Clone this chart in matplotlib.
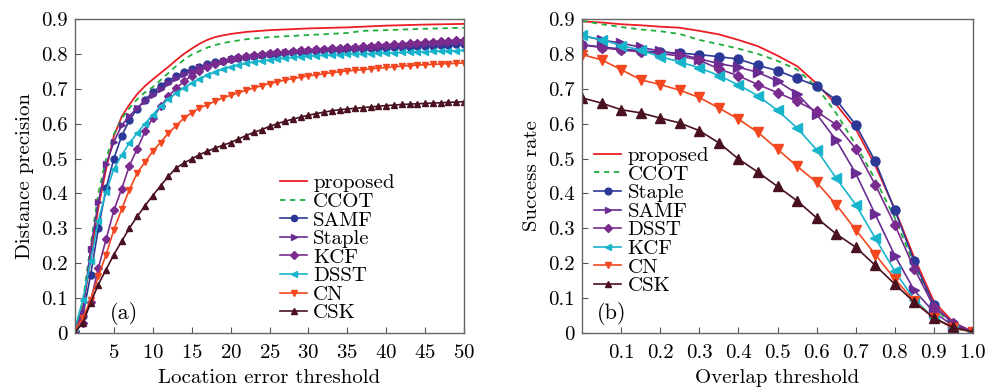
import matplotlib
matplotlib.use('Agg')
import matplotlib.pyplot as plt
import numpy as np

# ---- (a) precision plot, location error threshold 0..50 ----
x_err = np.arange(0, 51)

x_prop_a = [0, 1, 2, 3, 4, 5, 6, 7, 8, 9, 10, 11, 12, 13, 14, 15, 16, 17, 18, 19, 20,
            22, 25, 30, 35, 40, 45, 50]
prop_a = [0.01, 0.07, 0.21, 0.36, 0.47, 0.565, 0.62, 0.655, 0.685, 0.708, 0.727, 0.745,
          0.763, 0.782, 0.8, 0.815, 0.829, 0.84, 0.848, 0.853, 0.857, 0.863, 0.868, 0.873,
          0.876, 0.881, 0.884, 0.886]

x_ccot_a = [0, 1, 2, 3, 4, 5, 6, 7, 8, 9, 10, 11, 12, 13, 14, 15, 16, 17, 18, 19, 20,
            22, 25, 30, 35, 37, 40, 45, 50]
ccot_a = [0.01, 0.09, 0.25, 0.40, 0.50, 0.57, 0.615, 0.645, 0.67, 0.69, 0.705, 0.725,
          0.745, 0.765, 0.783, 0.798, 0.808, 0.818, 0.825, 0.831, 0.835, 0.842, 0.848,
          0.854, 0.860, 0.866, 0.868, 0.872, 0.875]

samf_a = [0.003, 0.05, 0.165, 0.30, 0.415, 0.50, 0.565, 0.61, 0.643, 0.668, 0.69, 0.708,
          0.723, 0.736, 0.747, 0.756, 0.763, 0.77, 0.776, 0.781, 0.785, 0.788, 0.791,
          0.794, 0.797, 0.799, 0.801, 0.803, 0.805, 0.806, 0.808, 0.809, 0.81, 0.811,
          0.812, 0.813, 0.814, 0.815, 0.816, 0.817, 0.818, 0.819, 0.82, 0.821, 0.822,
          0.823, 0.824, 0.825, 0.826, 0.827, 0.828]
staple_a = [0.01, 0.06, 0.24, 0.375, 0.483, 0.548, 0.595, 0.622, 0.645, 0.665, 0.683, 0.7,
            0.716, 0.73, 0.742, 0.752, 0.761, 0.768, 0.774, 0.779, 0.784, 0.788, 0.791,
            0.794, 0.797, 0.8, 0.802, 0.804, 0.806, 0.807, 0.809, 0.81, 0.812, 0.813,
            0.814, 0.816, 0.817, 0.818, 0.819, 0.821, 0.822, 0.823, 0.824, 0.826, 0.827,
            0.828, 0.83, 0.831, 0.832, 0.834, 0.835]
kcf_a = [0.005, 0.029, 0.09, 0.186, 0.269, 0.352, 0.413, 0.48, 0.528, 0.578, 0.616, 0.65,
         0.678, 0.702, 0.721, 0.738, 0.751, 0.762, 0.771, 0.779, 0.785, 0.79, 0.794, 0.797,
         0.8, 0.802, 0.804, 0.806, 0.808, 0.81, 0.811, 0.813, 0.814, 0.816, 0.817, 0.819,
         0.82, 0.822, 0.823, 0.825, 0.826, 0.828, 0.829, 0.831, 0.832, 0.834, 0.835, 0.837,
         0.838, 0.839, 0.84]
dsst_a = [0.014, 0.094, 0.205, 0.322, 0.405, 0.47, 0.51, 0.545, 0.573, 0.6, 0.626, 0.65,
          0.67, 0.688, 0.703, 0.716, 0.728, 0.739, 0.748, 0.756, 0.763, 0.768, 0.773,
          0.777, 0.78, 0.783, 0.786, 0.788, 0.79, 0.792, 0.794, 0.795, 0.796, 0.797,
          0.798, 0.799, 0.8, 0.8, 0.801, 0.802, 0.803, 0.803, 0.804, 0.805, 0.806, 0.806,
          0.807, 0.808, 0.809, 0.809, 0.81]
cn_a = [0.01, 0.043, 0.096, 0.162, 0.225, 0.296, 0.355, 0.411, 0.459, 0.49, 0.521, 0.546,
        0.573, 0.594, 0.616, 0.631, 0.645, 0.654, 0.664, 0.674, 0.681, 0.688, 0.696, 0.702,
        0.709, 0.715, 0.72, 0.725, 0.729, 0.733, 0.737, 0.74, 0.743, 0.746, 0.749, 0.751,
        0.753, 0.755, 0.757, 0.759, 0.761, 0.763, 0.765, 0.766, 0.768, 0.769, 0.77, 0.771,
        0.772, 0.773, 0.774]
csk_a = [0.003, 0.029, 0.086, 0.139, 0.182, 0.225, 0.263, 0.301, 0.334, 0.365, 0.394,
         0.422, 0.449, 0.473, 0.487, 0.499, 0.511, 0.521, 0.53, 0.538, 0.546, 0.556, 0.566,
         0.575, 0.583, 0.592, 0.6, 0.607, 0.613, 0.619, 0.624, 0.629, 0.633, 0.637, 0.64,
         0.642, 0.644, 0.646, 0.648, 0.65, 0.652, 0.653, 0.655, 0.656, 0.657, 0.658, 0.659,
         0.66, 0.661, 0.662, 0.663]

# ---- (b) success plot, overlap threshold 0..1 ----
x_ov = np.round(np.arange(0, 1.0001, 0.05), 2)

prop_b = [0.893, 0.89, 0.885, 0.882, 0.878, 0.875, 0.866, 0.856, 0.84, 0.822, 0.795,
          0.765, 0.715, 0.655, 0.585, 0.48, 0.355, 0.215, 0.09, 0.03, 0.003]
ccot_b = [0.895, 0.885, 0.877, 0.87, 0.865, 0.857, 0.84, 0.828, 0.815, 0.8, 0.78, 0.755,
          0.705, 0.63, 0.54, 0.44, 0.33, 0.195, 0.075, 0.02, 0.003]
staple_b = [0.826, 0.82, 0.814, 0.809, 0.805, 0.802, 0.798, 0.792, 0.785, 0.767, 0.752,
            0.73, 0.708, 0.668, 0.597, 0.492, 0.352, 0.205, 0.08, 0.025, 0.003]
samf_b = [0.852, 0.84, 0.831, 0.819, 0.808, 0.799, 0.786, 0.772, 0.762, 0.747, 0.722,
          0.686, 0.627, 0.553, 0.458, 0.34, 0.222, 0.122, 0.06, 0.02, 0.003]
dsst_b = [0.826, 0.818, 0.811, 0.806, 0.801, 0.794, 0.782, 0.757, 0.737, 0.712, 0.689,
          0.664, 0.635, 0.597, 0.528, 0.425, 0.31, 0.184, 0.075, 0.03, 0.003]
kcf_b = [0.853, 0.841, 0.824, 0.811, 0.792, 0.777, 0.76, 0.738, 0.711, 0.68, 0.638,
         0.588, 0.525, 0.444, 0.368, 0.272, 0.177, 0.096, 0.043, 0.014, 0.003]
cn_b = [0.798, 0.783, 0.755, 0.726, 0.712, 0.696, 0.675, 0.645, 0.613, 0.575, 0.527,
        0.478, 0.432, 0.368, 0.296, 0.225, 0.155, 0.091, 0.043, 0.014, 0.003]
csk_b = [0.674, 0.659, 0.64, 0.631, 0.616, 0.602, 0.58, 0.545, 0.499, 0.461, 0.42,
         0.379, 0.33, 0.284, 0.246, 0.194, 0.14, 0.088, 0.043, 0.016, 0.003]

RED = '#ec1c24'
GREEN = '#1fae3c'
BLUE = '#2b3896'
VIOLET = '#6a2b93'
PURPLE = '#7a2c8e'
CYAN = '#18b4cc'
ORANGE = '#f2471f'
BROWN = '#4a1220'

plt.rcParams.update({
    'font.family': 'cmr10',
    'mathtext.fontset': 'cm',
    'axes.formatter.use_mathtext': True,
    'font.size': 15,
})

fig = plt.figure(figsize=(9.88, 3.87), dpi=100)
ax1 = fig.add_axes([75 / 988, 54 / 387, 389 / 988, 314 / 387])
ax2 = fig.add_axes([582 / 988, 54 / 387, 391 / 988, 314 / 387])


def marked(ax, x, y, color, marker, label, ms):
    ax.plot(x, y, color=color, marker=marker, markersize=ms, markeredgecolor=color,
            markerfacecolor=color, linewidth=1.2, label=label)


# (a)
ax1.plot(x_prop_a, prop_a, color=RED, linewidth=1.3, label='proposed')
ax1.plot(x_ccot_a, ccot_a, color=GREEN, linewidth=1.3, linestyle=(0, (3, 2.5)), label='CCOT')
marked(ax1, x_err, samf_a, BLUE, 'o', 'SAMF', 5)
marked(ax1, x_err, staple_a, VIOLET, '>', 'Staple', 5)
marked(ax1, x_err, kcf_a, PURPLE, 'D', 'KCF', 4.2)
marked(ax1, x_err, dsst_a, CYAN, '<', 'DSST', 5)
marked(ax1, x_err, cn_a, ORANGE, 'v', 'CN', 5)
marked(ax1, x_err, csk_a, BROWN, '^', 'CSK', 5)

# (b)
ax2.plot(x_ov, prop_b, color=RED, linewidth=1.3, label='proposed')
ax2.plot(x_ov, ccot_b, color=GREEN, linewidth=1.3, linestyle=(0, (3, 2.5)), label='CCOT')
marked(ax2, x_ov, staple_b, BLUE, 'o', 'Staple', 6.5)
marked(ax2, x_ov, samf_b, VIOLET, '>', 'SAMF', 6.5)
marked(ax2, x_ov, dsst_b, PURPLE, 'D', 'DSST', 5.5)
marked(ax2, x_ov, kcf_b, CYAN, '<', 'KCF', 6.5)
marked(ax2, x_ov, cn_b, ORANGE, 'v', 'CN', 6.5)
marked(ax2, x_ov, csk_b, BROWN, '^', 'CSK', 6.5)

for ax in (ax1, ax2):
    ax.set_ylim(0, 0.9)
    ax.set_yticks(np.arange(0, 0.91, 0.1))
    ax.set_yticklabels(['0'] + ['%.1f' % v for v in np.arange(0.1, 0.91, 0.1)])
    ax.tick_params(direction='in', length=4, width=0.8, color='#555555', labelsize=15, pad=5)
    ax.tick_params(axis='x', pad=8)
    for s in ax.spines.values():
        s.set_color('#666666')
        s.set_linewidth(1.0)

leg_kw = dict(loc='upper left', frameon=False, fontsize=15, handlelength=1.3,
              handletextpad=0.3, labelspacing=0.0, borderpad=0, borderaxespad=0)

ax1.set_xlim(0, 50)
ax1.set_xticks(np.arange(5, 51, 5))
ax1.set_xlabel('Location error threshold', fontsize=15, labelpad=5)
ax1.set_ylabel('Distance precision', fontsize=15, labelpad=5)
ax1.text(6.3, 0.057, '(a)', fontsize=16, ha='center', va='center')
ax1.legend(bbox_to_anchor=(0.527, 0.507), markerscale=0.9, **leg_kw)

ax2.set_xlim(0, 1.0)
ax2.set_xticks(np.arange(0.1, 1.01, 0.1))
ax2.set_xticklabels(['%.1f' % v for v in np.arange(0.1, 1.01, 0.1)])
ax2.set_xlabel('Overlap threshold', fontsize=15, labelpad=5)
ax2.set_ylabel('Success rate', fontsize=15, labelpad=5)
ax2.text(0.076, 0.057, '(b)', fontsize=16, ha='center', va='center')
ax2.legend(bbox_to_anchor=(0.031, 0.594), markerscale=0.75, **leg_kw)

fig.savefig('out.png', dpi=100)
